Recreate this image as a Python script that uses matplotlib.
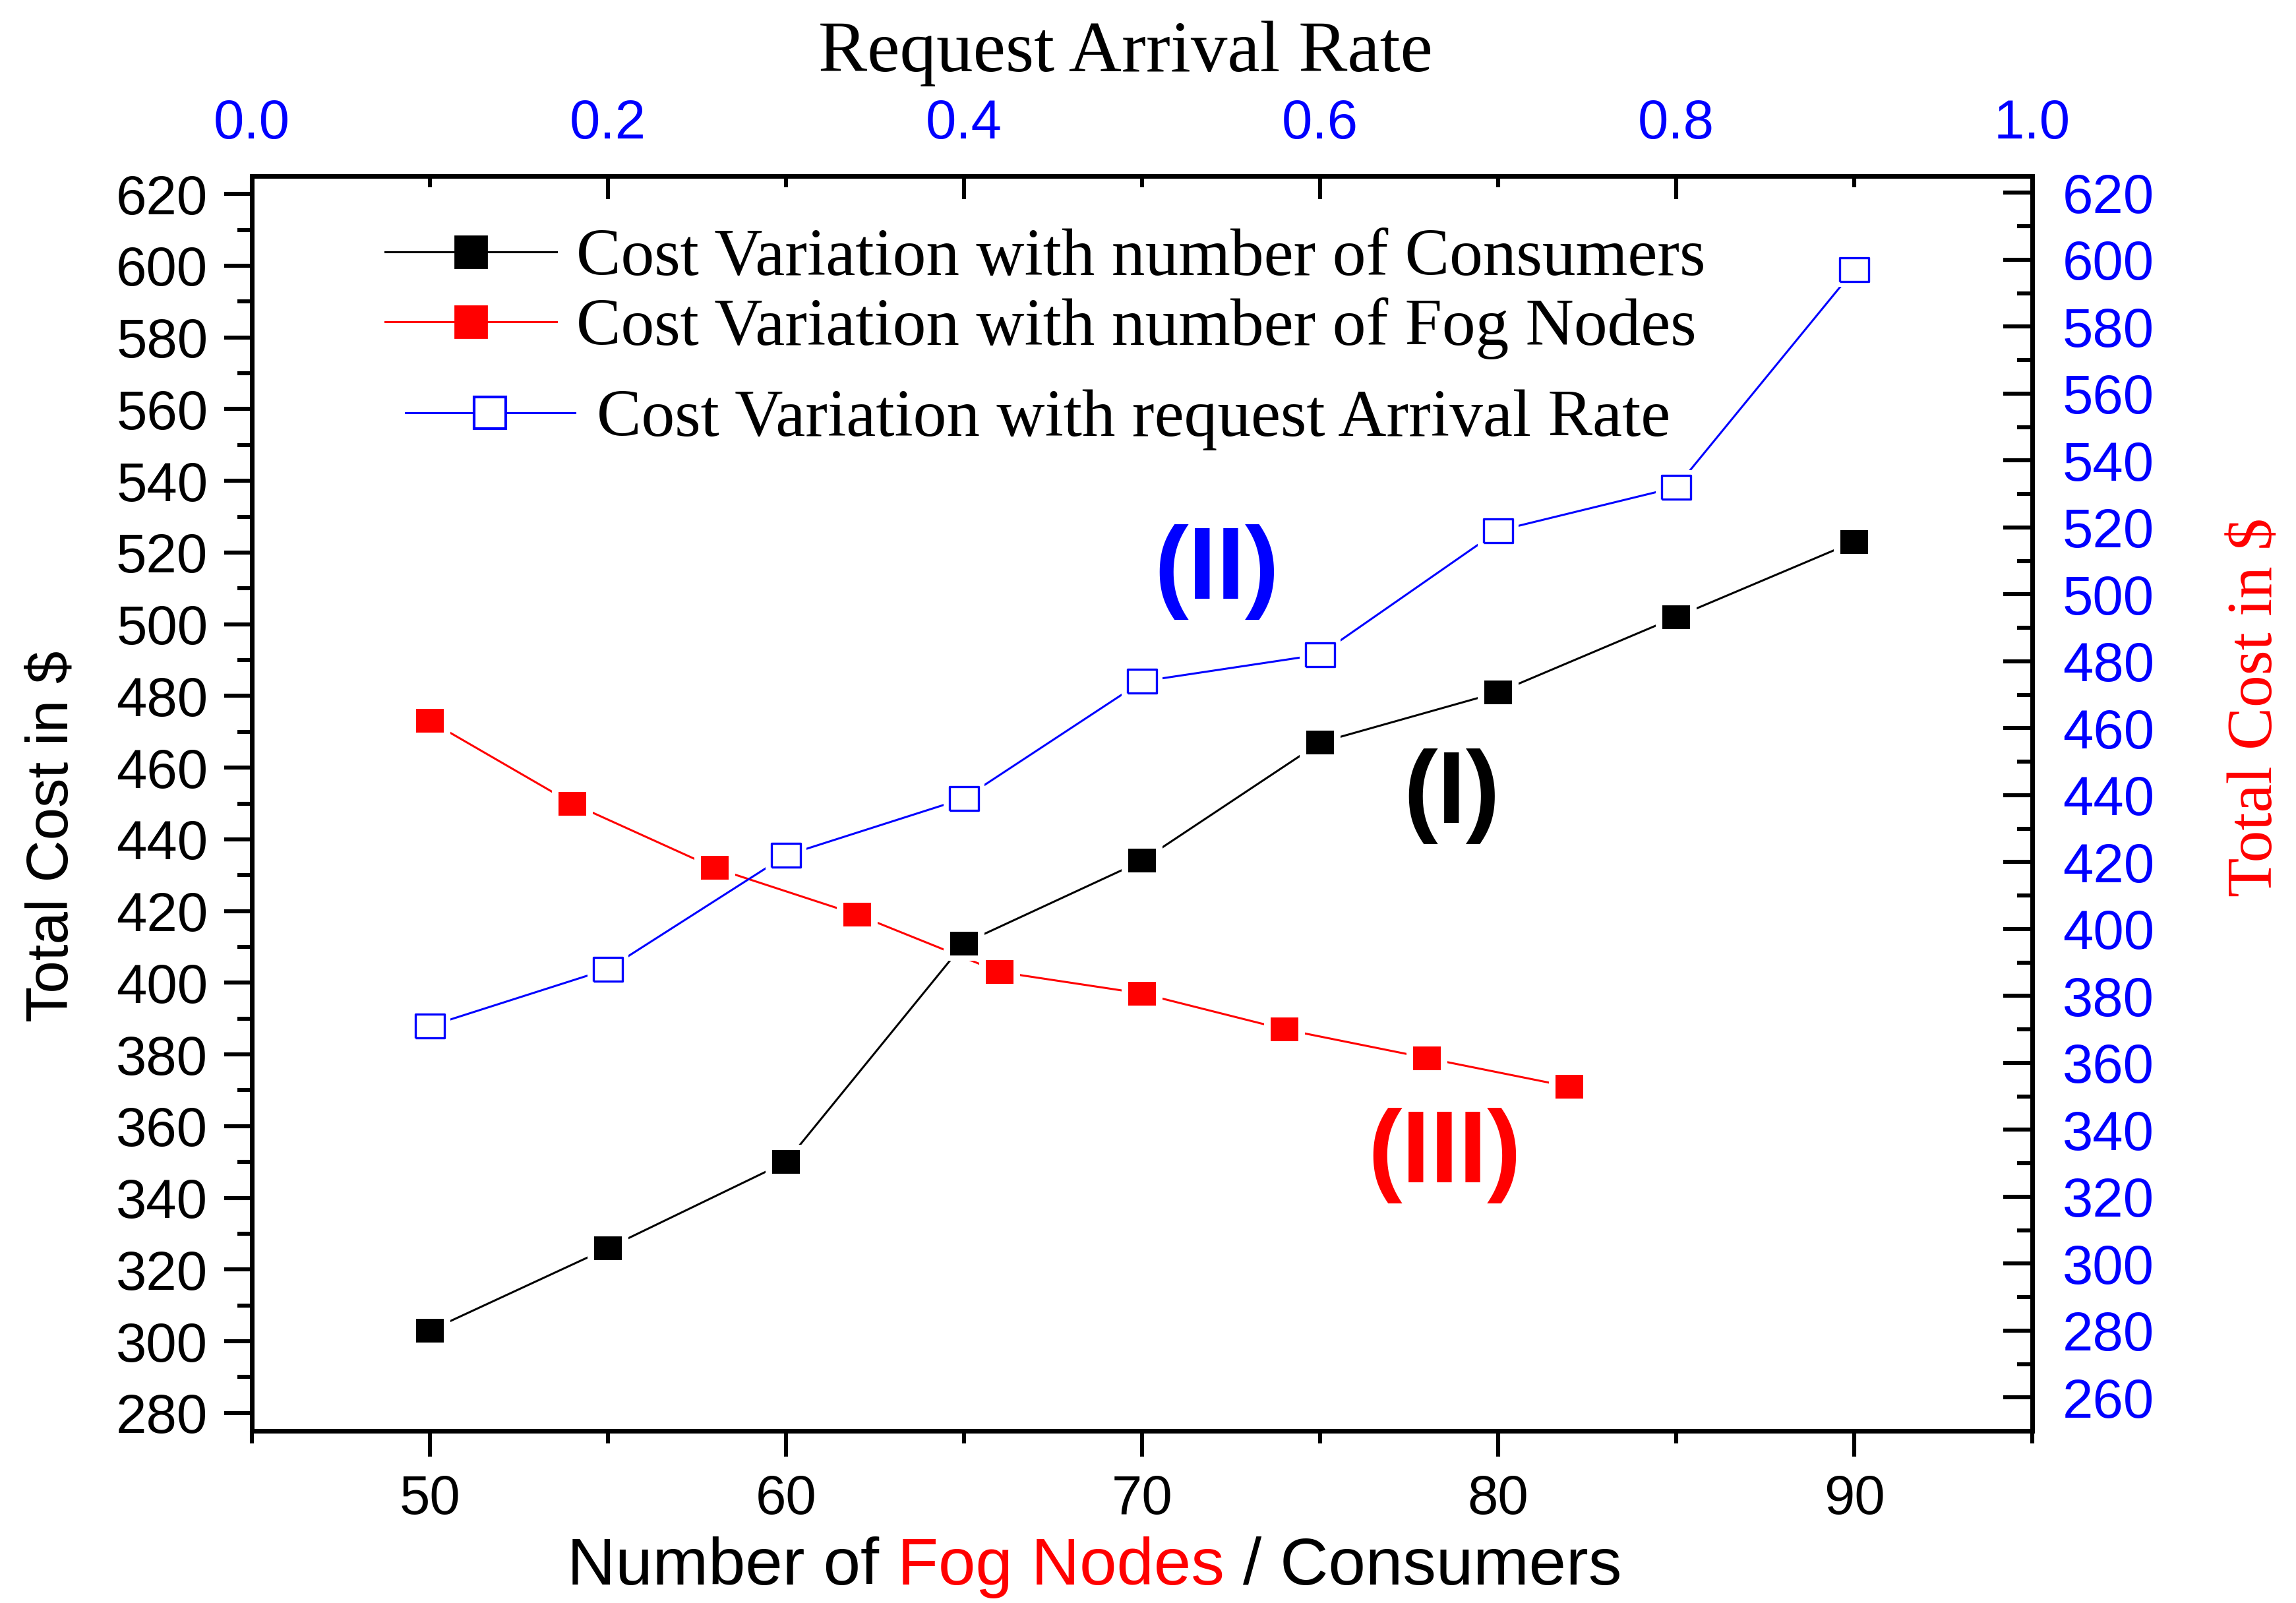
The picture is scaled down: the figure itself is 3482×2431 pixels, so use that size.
import matplotlib.pyplot as plt
from matplotlib.ticker import MultipleLocator
from matplotlib.lines import Line2D

# data
consumers = [50, 55, 60, 65, 70, 75, 80, 85, 90]
cost_consumers = [303, 326, 350, 411, 434, 467, 481, 502, 523]

fog_nodes = [50, 54, 58, 62, 66, 70, 74, 78, 82]
cost_fog = [473, 450, 432, 419, 403, 397, 387, 379, 371]

arrival_rate = [0.1, 0.2, 0.3, 0.4, 0.5, 0.6, 0.7, 0.8, 0.9]
cost_rate = [371, 388, 422, 439, 474, 482, 519, 532, 597]

W, H = 3482, 2431
plt.rcParams['font.family'] = 'Liberation Sans'

fig = plt.figure(figsize=(W / 200, H / 200), dpi=200)
rect = [382 / W, 1 - 2170 / H, 2700 / W, 1903 / H]
ax = fig.add_axes(rect)
ax2 = fig.add_axes(rect, frameon=False, label='rate')

# slightly wide squares, like the Origin export
box = [(-0.5, -0.42), (0.5, -0.42), (0.5, 0.42), (-0.5, 0.42), (-0.5, -0.42)]


def series(a, x, y, color, hollow=False):
    a.plot(x, y, color=color, lw=1.1, zorder=2)
    # white halo leaves a small gap between line and marker
    a.plot(x, y, ls='none', marker=box, ms=22, mfc='white', mec='white', mew=0, zorder=3)
    if hollow:
        a.plot(x, y, ls='none', marker=box, ms=15.5, mfc='white', mec=color, mew=1.2, zorder=4)
    else:
        a.plot(x, y, ls='none', marker=box, ms=15.1, mfc=color, mec=color, mew=0, zorder=4)


series(ax, consumers, cost_consumers, 'black')
series(ax, fog_nodes, cost_fog, 'red')
series(ax2, arrival_rate, cost_rate, 'blue', hollow=True)

ax.set_xlim(45, 95)
ax.set_ylim(275, 625)
ax2.set_xlim(0, 1)
ax2.set_ylim(250, 625)

ax.xaxis.set_major_locator(MultipleLocator(10))
ax.xaxis.set_minor_locator(MultipleLocator(5))
ax.yaxis.set_major_locator(MultipleLocator(20))
ax.yaxis.set_minor_locator(MultipleLocator(10))
ax2.xaxis.set_major_locator(MultipleLocator(0.2))
ax2.xaxis.set_minor_locator(MultipleLocator(0.1))
ax2.yaxis.set_major_locator(MultipleLocator(20))
ax2.yaxis.set_minor_locator(MultipleLocator(10))
ax2.xaxis.set_major_formatter('{x:.1f}')

for s in ax.spines.values():
    s.set_linewidth(2.5)

ax.tick_params(which='both', direction='out', width=2.2, labelsize=30, top=False, right=False)
ax.tick_params(axis='x', which='major', length=14, pad=9.5)
ax.tick_params(axis='x', which='minor', length=7)
ax.tick_params(axis='y', which='major', length=15, pad=9)
ax.tick_params(axis='y', which='minor', length=8)

ax2.xaxis.tick_top()
ax2.yaxis.tick_right()
ax2.tick_params(which='both', direction='in', width=2.2, labelsize=30, labelcolor='blue')
ax2.tick_params(axis='x', which='major', length=12.5, pad=14.5)
ax2.tick_params(axis='x', which='minor', length=6)
ax2.tick_params(axis='y', which='major', length=15.8, pad=16.5)
ax2.tick_params(axis='y', which='minor', length=8.3)

# annotations
ax.text(72.1, 514.6, '(II)', color='blue', fontsize=56, fontweight='bold', ha='center', va='center')
ax.text(78.7, 452.1, '(I)', color='black', fontsize=56, fontweight='bold', ha='center', va='center')
ax.text(78.5, 351.8, '(III)', color='red', fontsize=56, fontweight='bold', ha='center', va='center')

# legends, one entry each so the third row can sit a little to the right
serif = {'family': 'Liberation Serif', 'size': 36.5}
h1 = Line2D([], [], color='black', lw=1.1, marker='s', ms=17, mfc='black', mec='black')
h2 = Line2D([], [], color='red', lw=1.1, marker='s', ms=17, mfc='red', mec='red')
h3 = Line2D([], [], color='blue', lw=1.1, marker='s', ms=17, mfc='white', mec='blue', mew=1.5)
entries = [(h1, 'Cost Variation with number of Consumers', 584, 393, 2.56, 0.3),
           (h2, 'Cost Variation with number of Fog Nodes', 584, 498, 2.56, 0.3),
           (h3, 'Cost Variation with request Arrival Rate', 615, 637, 2.53, 0.33)]
for h, lab, px, py, hl, hp in entries:
    leg = fig.legend([h], [lab], loc='center left', bbox_to_anchor=(px / W, 1 - py / H),
                     bbox_transform=fig.transFigure, frameon=False, prop=serif, numpoints=1,
                     borderpad=0, borderaxespad=0, handlelength=hl, handletextpad=hp)

# axis titles
fig.text(1707 / W, 1 - 108 / H, 'Request Arrival Rate', family='Liberation Serif',
         fontsize=40, ha='center', va='baseline')
fig.text(80 / W, 1 - 1268 / H, r'Total Cost in \$', rotation=90, fontsize=32,
         ha='center', va='center')
fig.text(3422 / W, 1 - 1073 / H, r'Total Cost in \$', rotation=90, color='red',
         family='Liberation Serif', fontsize=35, ha='center', va='center')

# bottom title with "Fog Nodes" in red
r = fig.canvas.get_renderer()
kw = dict(fontsize=36.5, va='baseline', ha='left')
full = fig.text(0, 0, 'Number of Fog Nodes / Consumers', **kw)
w_full = full.get_window_extent(r).width
full.remove()
parts = [('Number of', 'black'), ('Fog Nodes', 'red'), ('/ Consumers', 'black')]
tmp = fig.text(0, 0, 'a a', **kw)
tmp2 = fig.text(0, 0, 'aa', **kw)
space = tmp.get_window_extent(r).width - tmp2.get_window_extent(r).width
tmp.remove()
tmp2.remove()
x0 = 1660 - w_full / 2
for txt, col in parts:
    t = fig.text(x0 / W, 1 - 2403 / H, txt, color=col, **kw)
    x0 += t.get_window_extent(r).width + space

fig.savefig('out.png', dpi=200)
